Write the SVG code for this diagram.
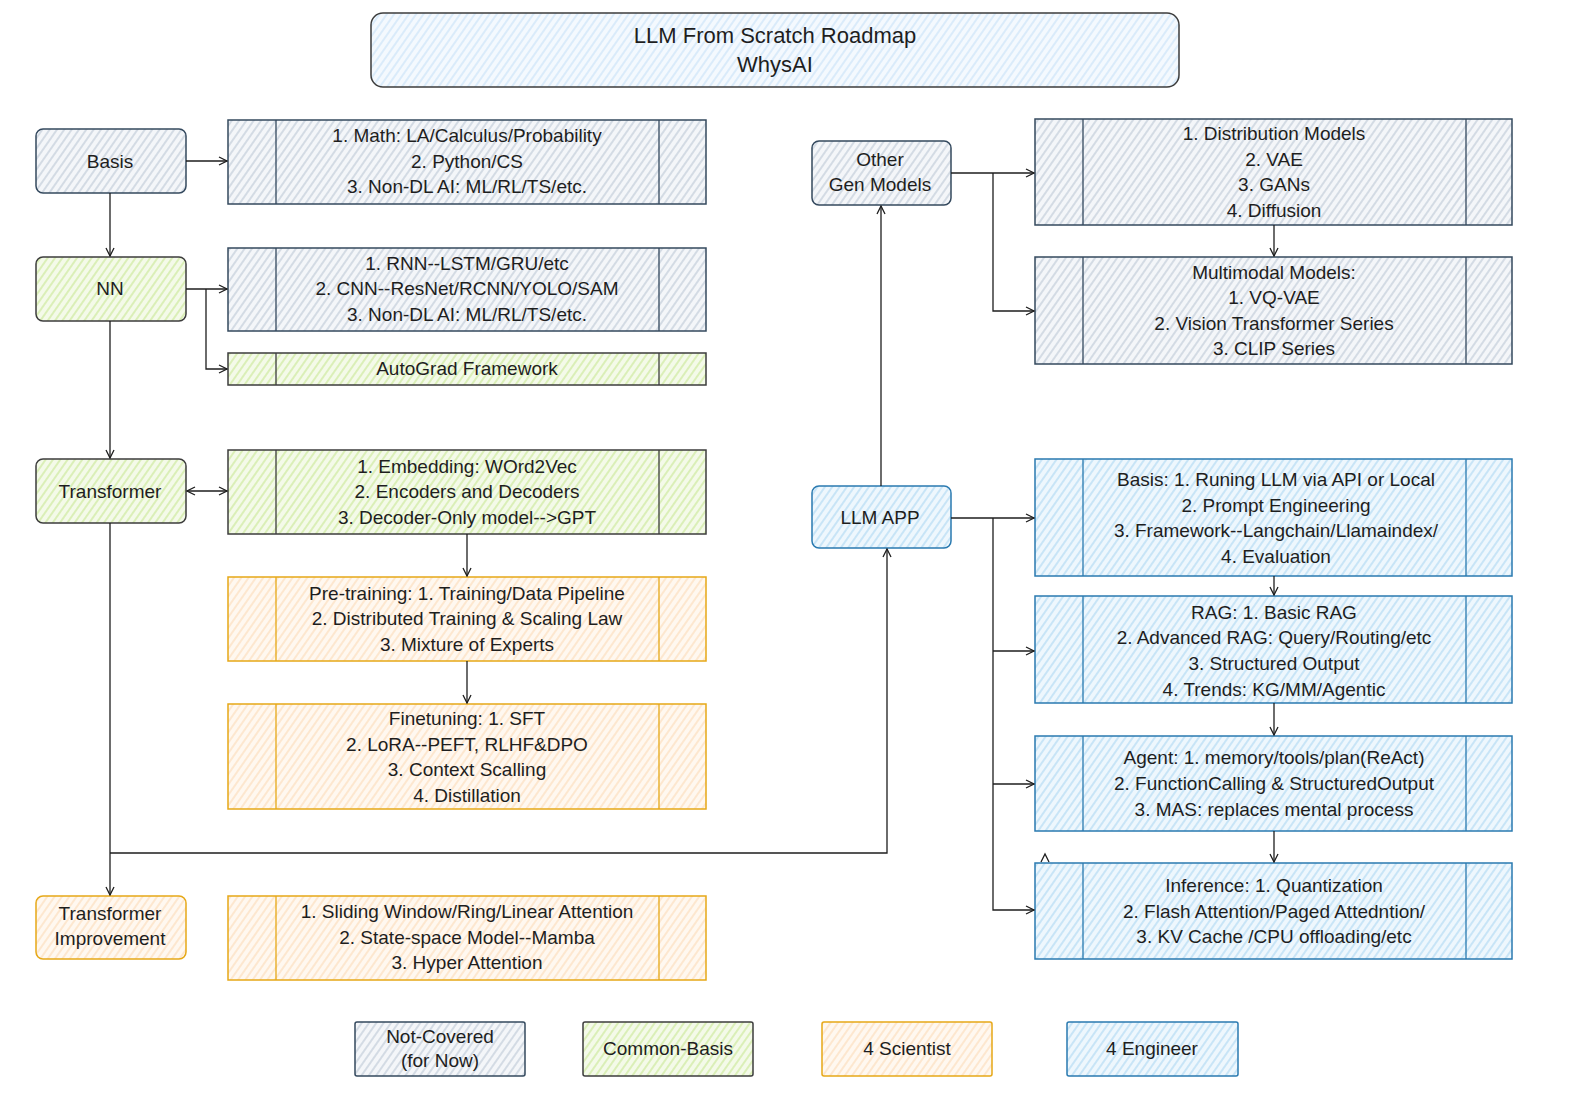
<svg xmlns="http://www.w3.org/2000/svg" width="1570" height="1096" viewBox="0 0 1570 1096">
<defs>
  <pattern id="hGray" width="6" height="6" patternUnits="userSpaceOnUse" patternTransform="rotate(35)">
    <rect width="6" height="6" fill="#f4f6f9"/>
    <line x1="1" y1="0" x2="1" y2="6" stroke="#b9c5d3" stroke-width="1.1"/>
  </pattern>
  <pattern id="hGreen" width="6" height="6" patternUnits="userSpaceOnUse" patternTransform="rotate(35)">
    <rect width="6" height="6" fill="#f4fae9"/>
    <line x1="1" y1="0" x2="1" y2="6" stroke="#c6e68f" stroke-width="1.1"/>
  </pattern>
  <pattern id="hOrange" width="6" height="6" patternUnits="userSpaceOnUse" patternTransform="rotate(35)">
    <rect width="6" height="6" fill="#fff8f0"/>
    <line x1="1" y1="0" x2="1" y2="6" stroke="#fcd9b4" stroke-width="1.1"/>
  </pattern>
  <pattern id="hBlue" width="6" height="6" patternUnits="userSpaceOnUse" patternTransform="rotate(35)">
    <rect width="6" height="6" fill="#eef7fd"/>
    <line x1="1" y1="0" x2="1" y2="6" stroke="#a9d6f2" stroke-width="1.1"/>
  </pattern>
  <pattern id="hTitle" width="6" height="6" patternUnits="userSpaceOnUse" patternTransform="rotate(35)">
    <rect width="6" height="6" fill="#f4f9fe"/>
    <line x1="1" y1="0" x2="1" y2="6" stroke="#c5e1f8" stroke-width="1.1"/>
  </pattern>
  <marker id="arr" viewBox="0 0 10 10" refX="9" refY="5" markerWidth="10" markerHeight="10" markerUnits="userSpaceOnUse" orient="auto-start-reverse">
    <path d="M1,1 L9,5 L1,9" fill="none" stroke="#1e1e1e" stroke-width="1.3"/>
  </marker>
</defs>
<style>
  text { font-family: "Liberation Sans", Arial, sans-serif; font-size: 19px; fill: #1e1e1e; text-anchor: middle; dominant-baseline: central; }
  .title { font-size: 22px; }
  .gray { fill: url(#hGray); stroke: #34495e; stroke-width: 1.5; }
  .green { fill: url(#hGreen); stroke: #3d3d3d; stroke-width: 1.5; }
  .orange { fill: url(#hOrange); stroke: #e6a817; stroke-width: 1.5; }
  .blue { fill: url(#hBlue); stroke: #2a7ab0; stroke-width: 1.5; }
  .tbox { fill: url(#hTitle); stroke: #3d3d3d; stroke-width: 1.5; }
  .div { stroke-width: 1.3; fill: none; }
  .gdiv { stroke: #34495e; }
  .grdiv { stroke: #3d3d3d; }
  .odiv { stroke: #e6a817; }
  .bdiv { stroke: #2a7ab0; }
  .conn path { fill: none; stroke: #1e1e1e; stroke-width: 1.3; }
</style>
<rect width="1570" height="1096" fill="#ffffff"/>

<g id="title">
  <rect class="tbox" x="371" y="13" width="808" height="74" rx="12"/>
  <text class="title" x="775" y="35">LLM From Scratch Roadmap</text>
  <text class="title" x="775" y="64">WhysAI</text>
</g>

<g id="basis">
  <rect class="gray" x="36" y="129" width="150" height="64" rx="7"/>
  <text x="110" y="161">Basis</text>
</g>
<g id="basis-topics">
  <rect class="gray" x="228" y="120" width="478" height="84"/>
  <path class="div gdiv" d="M276,120 V204 M659,120 V204"/>
  <text x="467" y="135">1. Math: LA/Calculus/Probability</text>
  <text x="467" y="161">2. Python/CS</text>
  <text x="467" y="186">3. Non-DL AI: ML/RL/TS/etc.</text>
</g>

<g id="nn">
  <rect class="green" x="36" y="257" width="150" height="64" rx="7"/>
  <text x="110" y="288">NN</text>
</g>
<g id="nn-topics">
  <rect class="gray" x="228" y="248" width="478" height="83"/>
  <path class="div gdiv" d="M276,248 V331 M659,248 V331"/>
  <text x="467" y="263">1. RNN--LSTM/GRU/etc</text>
  <text x="467" y="288">2. CNN--ResNet/RCNN/YOLO/SAM</text>
  <text x="467" y="314">3. Non-DL AI: ML/RL/TS/etc.</text>
</g>
<g id="autograd">
  <rect class="green" x="228" y="353" width="478" height="32"/>
  <path class="div grdiv" d="M276,353 V385 M659,353 V385"/>
  <text x="467" y="368">AutoGrad Framework</text>
</g>

<g id="transformer">
  <rect class="green" x="36" y="459" width="150" height="64" rx="7"/>
  <text x="110" y="491">Transformer</text>
</g>
<g id="transformer-topics">
  <rect class="green" x="228" y="450" width="478" height="84"/>
  <path class="div grdiv" d="M276,450 V534 M659,450 V534"/>
  <text x="467" y="466">1. Embedding: WOrd2Vec</text>
  <text x="467" y="491">2. Encoders and Decoders</text>
  <text x="467" y="517">3. Decoder-Only model--&gt;GPT</text>
</g>
<g id="pretraining">
  <rect class="orange" x="228" y="577" width="478" height="84"/>
  <path class="div odiv" d="M276,577 V661 M659,577 V661"/>
  <text x="467" y="593">Pre-training: 1. Training/Data Pipeline</text>
  <text x="467" y="618">2. Distributed Training &amp; Scaling Law</text>
  <text x="467" y="644">3. Mixture of Experts</text>
</g>
<g id="finetuning">
  <rect class="orange" x="228" y="704" width="478" height="105"/>
  <path class="div odiv" d="M276,704 V809 M659,704 V809"/>
  <text x="467" y="718">Finetuning: 1. SFT</text>
  <text x="467" y="744">2. LoRA--PEFT, RLHF&amp;DPO</text>
  <text x="467" y="769">3. Context Scalling</text>
  <text x="467" y="795">4. Distillation</text>
</g>

<g id="transformer-improvement">
  <rect class="orange" x="36" y="896" width="150" height="63" rx="7"/>
  <text x="110" y="913">Transformer</text>
  <text x="110" y="938">Improvement</text>
</g>
<g id="improvement-topics">
  <rect class="orange" x="228" y="896" width="478" height="84"/>
  <path class="div odiv" d="M276,896 V980 M659,896 V980"/>
  <text x="467" y="911">1. Sliding Window/Ring/Linear Attention</text>
  <text x="467" y="937">2. State-space Model--Mamba</text>
  <text x="467" y="962">3. Hyper Attention</text>
</g>

<g id="other-gen-models">
  <rect class="gray" x="812" y="141" width="139" height="64" rx="7"/>
  <text x="880" y="159">Other</text>
  <text x="880" y="184">Gen Models</text>
</g>
<g id="distribution-models">
  <rect class="gray" x="1035" y="119" width="477" height="106"/>
  <path class="div gdiv" d="M1083,119 V225 M1466,119 V225"/>
  <text x="1274" y="133">1. Distribution Models</text>
  <text x="1274" y="159">2. VAE</text>
  <text x="1274" y="184">3. GANs</text>
  <text x="1274" y="210">4. Diffusion</text>
</g>
<g id="multimodal-models">
  <rect class="gray" x="1035" y="257" width="477" height="107"/>
  <path class="div gdiv" d="M1083,257 V364 M1466,257 V364"/>
  <text x="1274" y="272">Multimodal Models:</text>
  <text x="1274" y="297">1. VQ-VAE</text>
  <text x="1274" y="323">2. Vision Transformer Series</text>
  <text x="1274" y="348">3. CLIP Series</text>
</g>

<g id="llm-app">
  <rect class="blue" x="812" y="486" width="139" height="62" rx="7"/>
  <text x="880" y="517">LLM APP</text>
</g>
<g id="app-basis">
  <rect class="blue" x="1035" y="459" width="477" height="117"/>
  <path class="div bdiv" d="M1083,459 V576 M1466,459 V576"/>
  <text x="1276" y="479">Basis: 1. Runing LLM via API or Local</text>
  <text x="1276" y="505">2. Prompt Engineering</text>
  <text x="1276" y="530">3. Framework--Langchain/Llamaindex/</text>
  <text x="1276" y="556">4. Evaluation</text>
</g>
<g id="rag">
  <rect class="blue" x="1035" y="596" width="477" height="107"/>
  <path class="div bdiv" d="M1083,596 V703 M1466,596 V703"/>
  <text x="1274" y="612">RAG: 1. Basic RAG</text>
  <text x="1274" y="637">2. Advanced RAG: Query/Routing/etc</text>
  <text x="1274" y="663">3. Structured Output</text>
  <text x="1274" y="689">4. Trends: KG/MM/Agentic</text>
</g>
<g id="agent">
  <rect class="blue" x="1035" y="736" width="477" height="95"/>
  <path class="div bdiv" d="M1083,736 V831 M1466,736 V831"/>
  <text x="1274" y="757">Agent: 1. memory/tools/plan(ReAct)</text>
  <text x="1274" y="783">2. FunctionCalling &amp; StructuredOutput</text>
  <text x="1274" y="809">3. MAS: replaces mental process</text>
</g>
<g id="inference">
  <rect class="blue" x="1035" y="863" width="477" height="96"/>
  <path class="div bdiv" d="M1083,863 V959 M1466,863 V959"/>
  <text x="1274" y="885">Inference: 1. Quantization</text>
  <text x="1274" y="911">2. Flash Attention/Paged Attedntion/</text>
  <text x="1274" y="936">3. KV Cache /CPU offloading/etc</text>
</g>

<g id="legend-not-covered">
  <rect class="gray" x="355" y="1022" width="170" height="54" rx="2"/>
  <text x="440" y="1036">Not-Covered</text>
  <text x="440" y="1060">(for Now)</text>
</g>
<g id="legend-common-basis">
  <rect class="green" x="583" y="1022" width="170" height="54" rx="2"/>
  <text x="668" y="1048">Common-Basis</text>
</g>
<g id="legend-scientist">
  <rect class="orange" x="822" y="1022" width="170" height="54" rx="2"/>
  <text x="907" y="1048">4 Scientist</text>
</g>
<g id="legend-engineer">
  <rect class="blue" x="1067" y="1022" width="171" height="54" rx="2"/>
  <text x="1152" y="1048">4 Engineer</text>
</g>

<g id="connectors" class="conn">
  <path d="M186,161 H227" marker-end="url(#arr)"/>
  <path d="M110,193 V256" marker-end="url(#arr)"/>
  <path d="M186,289 H227" marker-end="url(#arr)"/>
  <path d="M206,289 V369 H227" marker-end="url(#arr)"/>
  <path d="M110,321 V458" marker-end="url(#arr)"/>
  <path d="M187,491 H227" marker-start="url(#arr)" marker-end="url(#arr)"/>
  <path d="M467,534 V576" marker-end="url(#arr)"/>
  <path d="M467,661 V703" marker-end="url(#arr)"/>
  <path d="M110,523 V895" marker-end="url(#arr)"/>
  <path d="M110,853 H887 V549" marker-end="url(#arr)"/>
  <path d="M881,486 V206" marker-end="url(#arr)"/>
  <path d="M951,173 H1034" marker-end="url(#arr)"/>
  <path d="M993,173 V311 H1034" marker-end="url(#arr)"/>
  <path d="M1274,225 V256" marker-end="url(#arr)"/>
  <path d="M951,518 H1034" marker-end="url(#arr)"/>
  <path d="M993,518 V910 H1034" marker-end="url(#arr)"/>
  <path d="M993,651 H1034" marker-end="url(#arr)"/>
  <path d="M993,784 H1034" marker-end="url(#arr)"/>
  <path d="M1274,576 V595" marker-end="url(#arr)"/>
  <path d="M1274,703 V735" marker-end="url(#arr)"/>
  <path d="M1274,831 V862" marker-end="url(#arr)"/>
  <path d="M1041,862 L1045,854 L1049,862"/>
</g>
</svg>
